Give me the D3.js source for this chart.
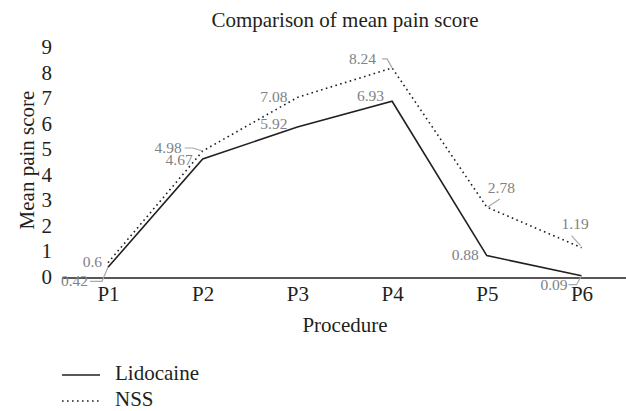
<!DOCTYPE html>
<html>
<head>
<meta charset="utf-8">
<script src="https://cdn.jsdelivr.net/npm/d3@7"></script>
<style>
    body { margin: 0; background: #fff; }
    svg { font-family: "Liberation Serif", "Times New Roman", serif; }
</style>
</head>
<body>
<svg id="chart"></svg>
<script>
//----------------------------//
//            DATA            //
//----------------------------//
const categories = ["P1", "P2", "P3", "P4", "P5", "P6"];
const lidocaine = [0.42, 4.67, 5.92, 6.93, 0.88, 0.09];
const nss = [0.6, 4.98, 7.08, 8.24, 2.78, 1.19];
const yTicks = [0, 1, 2, 3, 4, 5, 6, 7, 8, 9];
const seriesNames = ["Lidocaine", "NSS"];

// label placement relative to each point (anchor, dx, dy, leader path)
const lidoLabels = [
    { a: "end", dx: -20, dy: 19, lead: [[-18, 14], [-6, 14], [0, 0]] },
    { a: "end", dx: -10, dy: 6 },
    { a: "end", dx: -10, dy: 2 },
    { a: "end", dx: -8, dy: 0 },
    { a: "end", dx: -8, dy: 4 },
    { a: "end", dx: -14, dy: 14, lead: [[-13, 9], [-5, 9], [0, 0]] }
];
const nssLabels = [
    { a: "end", dx: -6, dy: 4 },
    { a: "end", dx: -21, dy: 2, lead: [[-18, -3], [-10, -3], [0, 0]] },
    { a: "end", dx: -10, dy: 5 },
    { a: "end", dx: -16, dy: -4, lead: [[-10, -9], [-5, -9], [0, 0]] },
    { a: "start", dx: 1, dy: -14, lead: [[13, -8], [1, 0]] },
    { a: "start", dx: -20, dy: -19, lead: [[-10, -12], [-1, -2]] }
];

const W = 626, H = 411;
const FONT = 21;

const svg = d3.select("#chart").attr("width", W).attr("height", H);

const x = d3.scalePoint()
    .domain(categories)
    .range([108, 581.5]);

const y = d3.scaleLinear()
    .domain([0, 9])
    .range([278, 48.5]);

// --- title ---
svg.append("text")
    .attr("x", 345).attr("y", 27)
    .attr("text-anchor", "middle")
    .attr("font-size", FONT)
    .attr("fill", "#231f20")
    .text("Comparison of mean pain score");

// --- y axis (labels only) ---
const yAxis = svg.append("g")
    .attr("transform", "translate(56,0)")
    .call(d3.axisLeft(y).tickValues(yTicks).tickSize(0).tickPadding(4).tickFormat(d3.format("d")));
yAxis.select(".domain").remove();
yAxis.selectAll("text")
    .attr("font-family", "Liberation Serif, serif")
    .attr("font-size", FONT)
    .attr("fill", "#231f20")
    .attr("dy", "0.25em");

svg.append("text")
    .attr("transform", "translate(34,160) rotate(-90)")
    .attr("text-anchor", "middle")
    .attr("font-size", FONT)
    .attr("fill", "#231f20")
    .text("Mean pain score");

// --- x axis ---
const xAxis = svg.append("g")
    .attr("transform", `translate(0,${y(0)})`)
    .call(d3.axisBottom(x).tickSize(0).tickPadding(8));
xAxis.select(".domain").remove();
xAxis.selectAll("text")
    .attr("font-family", "Liberation Serif, serif")
    .attr("font-size", FONT)
    .attr("fill", "#231f20");

svg.append("line")
    .attr("x1", 62).attr("x2", W)
    .attr("y1", y(0)).attr("y2", y(0))
    .attr("stroke", "#231f20")
    .attr("stroke-width", 1.3);

svg.append("text")
    .attr("x", 345).attr("y", 332)
    .attr("text-anchor", "middle")
    .attr("font-size", FONT)
    .attr("fill", "#231f20")
    .text("Procedure");

// --- lines ---
const line = d3.line()
    .x((d, i) => x(categories[i]))
    .y(d => y(d));

svg.append("path")
    .datum(nss)
    .attr("fill", "none")
    .attr("stroke", "#231f20")
    .attr("stroke-width", 1.6)
    .attr("stroke-dasharray", "1.6,3.4")
    .attr("d", line);

svg.append("path")
    .datum(lidocaine)
    .attr("fill", "none")
    .attr("stroke", "#231f20")
    .attr("stroke-width", 1.6)
    .attr("d", line);

// --- data labels ---
function drawLabels(values, layout) {
    const g = svg.append("g");
    values.forEach((v, i) => {
        const px = x(categories[i]);
        const py = y(v);
        const L = layout[i];
        if (L.lead) {
            g.append("path")
                .attr("d", d3.line()(L.lead.map(p => [px + p[0], py + p[1]])))
                .attr("fill", "none")
                .attr("stroke", "#a7a9ac")
                .attr("stroke-width", 1.2);
        }
        g.append("text")
            .attr("x", px + L.dx)
            .attr("y", py + L.dy)
            .attr("text-anchor", L.a)
            .attr("font-size", 15.5)
            .attr("fill", "#808285")
            .text(v);
    });
}
drawLabels(lidocaine, lidoLabels);
drawLabels(nss, nssLabels);

// --- legend ---
const legend = svg.append("g");
seriesNames.forEach((name, i) => {
    const ly = 375 + i * 26;
    legend.append("line")
        .attr("x1", 62).attr("x2", 100)
        .attr("y1", ly).attr("y2", ly)
        .attr("stroke", "#231f20")
        .attr("stroke-width", 1.6)
        .attr("stroke-dasharray", i === 1 ? "1.6,3.4" : null);
    legend.append("text")
        .attr("x", 115).attr("y", ly + 5)
        .attr("font-size", FONT)
        .attr("fill", "#231f20")
        .text(name);
});
</script>
</body>
</html>
